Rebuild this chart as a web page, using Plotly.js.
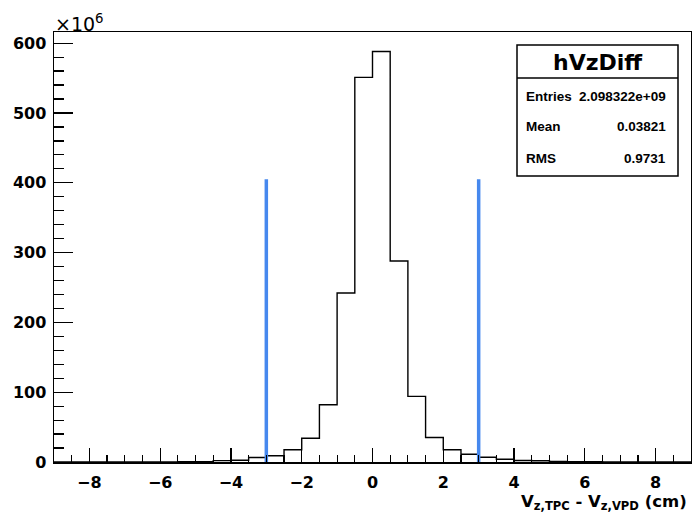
<!DOCTYPE html>
<html>
<head>
<meta charset="utf-8">
<script src="https://cdn.plot.ly/plotly-3.0.1.min.js"></script>
<style>
  html, body { margin: 0; padding: 0; background: #fff; }
  #chart { width: 692px; height: 515px; }
</style>
</head>
<body>
<div id="chart"></div>
<script>
// Histogram hVzDiff: bin edges (cm) and contents (in units of 10^6)
var binEdges = [-9, -8.5, -8, -7.5, -7, -6.5, -6, -5.5, -5, -4.5, -4, -3.5, -3, -2.5, -2, -1.5, -1, -0.5,
                0, 0.5, 1, 1.5, 2, 2.5, 3, 3.5, 4, 4.5, 5, 5.5, 6, 6.5, 7, 7.5, 8, 8.5, 9];
var binContents = [0.1, 0.1, 0.1, 0.1, 0.15, 0.2, 0.25, 0.35, 0.6, 2.0, 2.6, 6.5, 9.0, 17.5, 34, 82, 242, 551,
                   588, 288, 94, 35, 17.5, 11, 6.8, 4.0, 2.2, 1.7, 0.7, 0.4, 0.3, 0.2, 0.15, 0.1, 0.1, 0.1];
// Cut lines at |Vz diff| = 3 cm
var cutPositions = [-3, 3];
var cutHeight = 405;
// Axis ticks
var xTicks = [-8, -6, -4, -2, 0, 2, 4, 6, 8];
var yTicks = [0, 100, 200, 300, 400, 500, 600];
// Stats box
var statsTitle = "hVzDiff";
var statsLabels = ["Entries", "Mean", "RMS"];
var statsValues = ["2.098322e+09", "0.03821", "0.9731"];

var stepY = binContents.concat([binContents[binContents.length - 1]]);

var traces = [{
  type: 'scatter', mode: 'lines',
  x: binEdges, y: stepY,
  line: {shape: 'hv', color: '#000', width: 1.4},
  hoverinfo: 'skip', showlegend: false
}];
cutPositions.forEach(function (c) {
  traces.push({
    type: 'scatter', mode: 'lines',
    x: [c, c], y: [0, cutHeight],
    line: {color: '#4688ee', width: 3.5},
    hoverinfo: 'skip', showlegend: false
  });
});

var FONT = 'DejaVu Sans, Liberation Sans, Arial, sans-serif';
var SFONT = 'Liberation Sans, Arial, Helvetica, sans-serif';
var L = 54, T = 32, W = 637, H = 430;
function px(x) { return (x - L) / W; }
function py(y) { return (T + H - y) / H; }

var annotations = [
  {xref: 'paper', yref: 'paper', x: px(53), y: py(23), xanchor: 'left', yanchor: 'middle',
   text: '×10<sup>6</sup>', showarrow: false, font: {family: FONT, size: 19, color: '#000'}},
  {xref: 'paper', yref: 'paper', x: px(689), y: py(502), xanchor: 'right', yanchor: 'middle',
   text: '<b>V<sub>z,TPC</sub> - V<sub>z,VPD</sub> (cm)</b>', showarrow: false,
   font: {family: FONT, size: 16.5, color: '#000'}},
  {xref: 'paper', yref: 'paper', x: px(597.5), y: py(62), xanchor: 'center', yanchor: 'middle',
   text: '<b>' + statsTitle + '</b>', showarrow: false, font: {family: FONT, size: 22, color: '#000'}}
];
var rowY = [96, 127, 158];
statsLabels.forEach(function (lab, i) {
  annotations.push({xref: 'paper', yref: 'paper', x: px(524), y: py(rowY[i]), xanchor: 'left', yanchor: 'middle',
    text: '<b>' + lab + '</b>', showarrow: false, font: {family: SFONT, size: 13.5, color: '#000'}});
  annotations.push({xref: 'paper', yref: 'paper', x: px(668), y: py(rowY[i]), xanchor: 'right', yanchor: 'middle',
    text: '<b>' + statsValues[i] + '</b>', showarrow: false, font: {family: SFONT, size: 13.5, color: '#000'}});
});

var layout = {
  width: 692, height: 515,
  margin: {l: L, r: 692 - L - W, t: T, b: 515 - T - H, pad: 0},
  paper_bgcolor: '#fff', plot_bgcolor: '#fff',
  showlegend: false,
  xaxis: {
    range: [-9, 9], tickvals: xTicks, ticktext: xTicks.map(function (v) { return v < 0 ? '\u2212' + (-v) : '' + v; }),
    ticks: 'inside', ticklen: 14, tickwidth: 1.2, tickcolor: '#000',
    minor: {dtick: 0.5, tick0: 0, ticks: 'inside', ticklen: 7, tickwidth: 1.2, tickcolor: '#000', showgrid: false},
    showgrid: false, zeroline: false, showline: true, linecolor: '#000', linewidth: 1.5, mirror: true,
    tickfont: {family: FONT, size: 16, color: '#000', weight: 'bold'}, ticklabelstandoff: 5
  },
  yaxis: {
    range: [0, 616], tickvals: yTicks,
    ticks: 'inside', ticklen: 19, tickwidth: 1.2, tickcolor: '#000',
    minor: {dtick: 20, tick0: 0, ticks: 'inside', ticklen: 10, tickwidth: 1.2, tickcolor: '#000', showgrid: false},
    showgrid: false, zeroline: false, showline: true, linecolor: '#000', linewidth: 1.5, mirror: true,
    tickfont: {family: FONT, size: 16, color: '#000', weight: 'bold'}, ticklabelstandoff: 3
  },
  shapes: [
    {type: 'rect', xref: 'paper', yref: 'paper', x0: px(517), x1: px(678), y0: py(176), y1: py(45),
     line: {color: '#000', width: 1.5}, fillcolor: '#fff', layer: 'above'},
    {type: 'line', xref: 'paper', yref: 'paper', x0: px(517), x1: px(678), y0: py(78), y1: py(78),
     line: {color: '#000', width: 1.5}, layer: 'above'}
  ],
  annotations: annotations
};

Plotly.newPlot('chart', traces, layout, {displayModeBar: false, staticPlot: true});
</script>
</body>
</html>
